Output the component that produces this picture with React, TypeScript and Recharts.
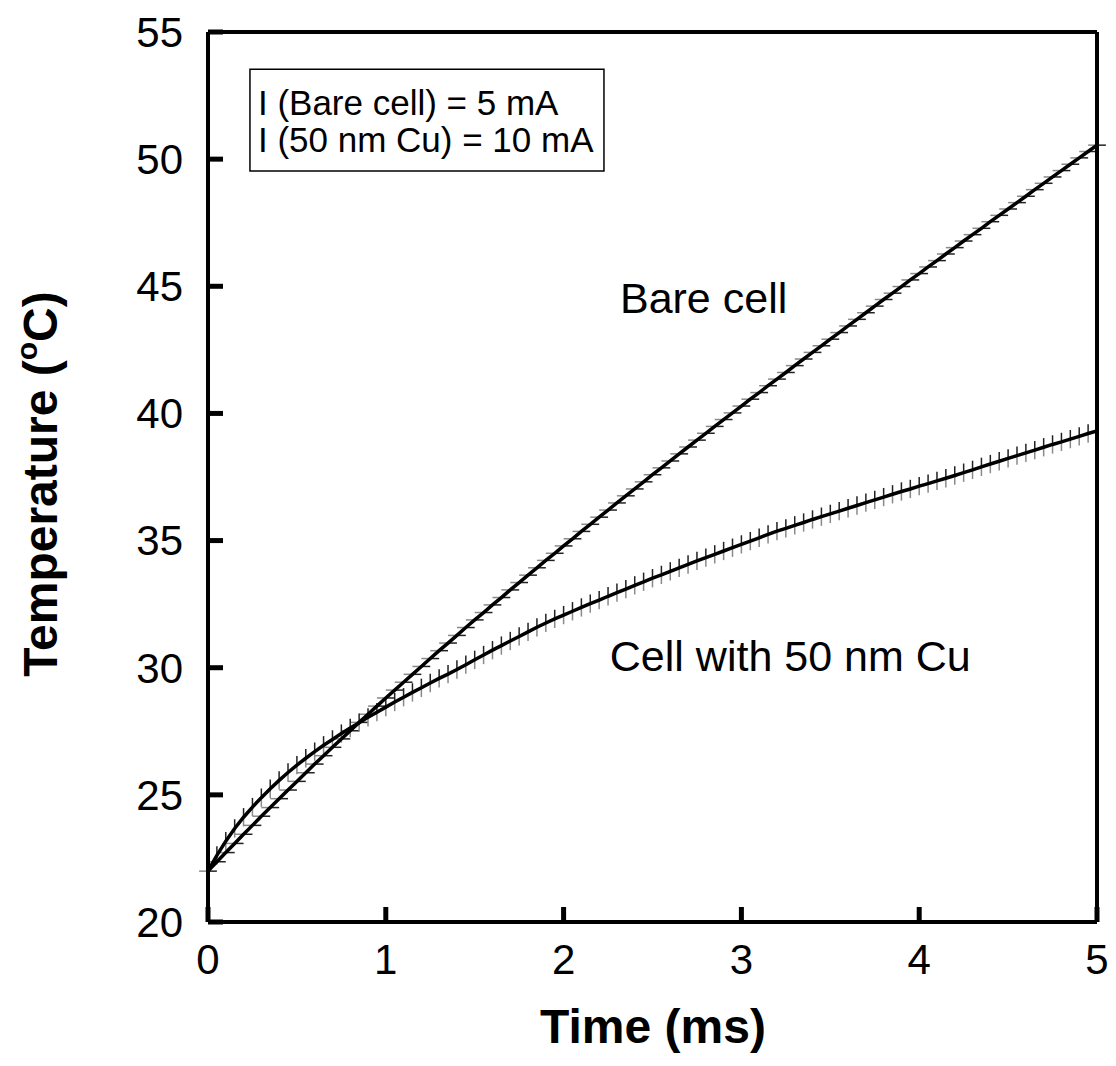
import React from 'react';
import { ComposedChart, Scatter, XAxis, YAxis, ErrorBar, ReferenceArea, ReferenceDot } from 'recharts';

const TIME = [
  0, 0.05, 0.1, 0.15, 0.2, 0.25, 0.3, 0.35, 0.4, 0.45, 0.5, 0.55, 0.6, 0.65, 0.7, 0.75, 0.8, 0.85, 0.9, 0.95,
  1, 1.05, 1.1, 1.15, 1.2, 1.25, 1.3, 1.35, 1.4, 1.45, 1.5, 1.55, 1.6, 1.65, 1.7, 1.75, 1.8, 1.85, 1.9, 1.95,
  2, 2.05, 2.1, 2.15, 2.2, 2.25, 2.3, 2.35, 2.4, 2.45, 2.5, 2.55, 2.6, 2.65, 2.7, 2.75, 2.8, 2.85, 2.9, 2.95,
  3, 3.05, 3.1, 3.15, 3.2, 3.25, 3.3, 3.35, 3.4, 3.45, 3.5, 3.55, 3.6, 3.65, 3.7, 3.75, 3.8, 3.85, 3.9, 3.95,
  4, 4.05, 4.1, 4.15, 4.2, 4.25, 4.3, 4.35, 4.4, 4.45, 4.5, 4.55, 4.6, 4.65, 4.7, 4.75, 4.8, 4.85, 4.9, 4.95, 5,
];

const BARE_CELL = [
  22.0, 22.37, 22.73, 23.09, 23.45, 23.8, 24.16, 24.5, 24.85, 25.19, 25.53, 25.87, 26.21, 26.54, 26.87, 27.2, 27.52, 27.85, 28.17, 28.49,
  28.81, 29.12, 29.43, 29.74, 30.05, 30.36, 30.67, 30.97, 31.27, 31.58, 31.88, 32.17, 32.47, 32.76, 33.06, 33.35, 33.64, 33.93, 34.22, 34.5,
  34.79, 35.07, 35.36, 35.64, 35.92, 36.2, 36.48, 36.76, 37.03, 37.31, 37.59, 37.86, 38.13, 38.41, 38.68, 38.95, 39.22, 39.49, 39.76, 40.02,
  40.29, 40.56, 40.82, 41.09, 41.35, 41.61, 41.88, 42.14, 42.4, 42.66, 42.92, 43.18, 43.44, 43.7, 43.96, 44.22, 44.48, 44.73, 44.99, 45.25,
  45.5, 45.76, 46.01, 46.27, 46.52, 46.78, 47.03, 47.28, 47.54, 47.79, 48.04, 48.29, 48.54, 48.8, 49.05, 49.3, 49.55, 49.8, 50.05, 50.3, 50.55,
];

const CU_CELL = [
  22.0, 22.62, 23.18, 23.68, 24.12, 24.52, 24.89, 25.24, 25.57, 25.88, 26.17, 26.44, 26.7, 26.95, 27.18, 27.41, 27.63, 27.84, 28.05, 28.25,
  28.45, 28.65, 28.84, 29.03, 29.21, 29.4, 29.58, 29.75, 29.93, 30.12, 30.31, 30.5, 30.69, 30.87, 31.05, 31.23, 31.41, 31.59, 31.76, 31.92,
  32.07, 32.22, 32.37, 32.52, 32.66, 32.81, 32.95, 33.09, 33.24, 33.38, 33.52, 33.65, 33.79, 33.93, 34.06, 34.2, 34.33, 34.46, 34.59, 34.72,
  34.85, 34.98, 35.11, 35.24, 35.37, 35.48, 35.6, 35.71, 35.83, 35.94, 36.05, 36.16, 36.27, 36.38, 36.49, 36.6, 36.71, 36.82, 36.93, 37.03,
  37.14, 37.24, 37.35, 37.45, 37.56, 37.67, 37.78, 37.9, 38.01, 38.12, 38.23, 38.34, 38.45, 38.56, 38.67, 38.78, 38.88, 38.99, 39.1, 39.21, 39.31,
];

const BARE_TIME_ERR = 0.05; // ms, horizontal error
const CU_TEMP_ERR = 0.36; // °C, vertical error

const X_TICKS = [0, 1, 2, 3, 4, 5];
const Y_TICKS = [20, 25, 30, 35, 40, 45, 50, 55];

const LEGEND_LINES = ['I (Bare cell) = 5 mA', 'I (50 nm Cu) = 10 mA'];
const BARE_LABEL = 'Bare cell';
const CU_LABEL = 'Cell with 50 nm Cu';

const bareRows = TIME.map((t, i) => ({
  t,
  T: BARE_CELL[i],
  errLow: [BARE_TIME_ERR, 0],
  errHigh: [0, BARE_TIME_ERR],
}));
const cuRows = TIME.map((t, i) => ({
  t,
  T: CU_CELL[i],
  errLow: [CU_TEMP_ERR, 0],
  errHigh: [0, CU_TEMP_ERR],
}));

const FONT = "Arial, 'Liberation Sans', Helvetica, sans-serif";

const NoShape = () => <g />;

const YTitle = () => (
  <text
    x={49}
    y={476}
    transform="rotate(-90 49 476)"
    textAnchor="middle"
    fontFamily={FONT}
    fontWeight="bold"
    fontSize={48}
    fill="#000"
  >
    Temperature (
    <tspan fontSize={30} dy={-20}>o</tspan>
    <tspan dy={20}>C)</tspan>
  </text>
);

const XTitle = () => (
  <text x={645} y={1035} textAnchor="middle" fontFamily={FONT} fontWeight="bold" fontSize={48} fill="#000">
    Time (ms)
  </text>
);

const LegendContent = (props: any) => {
  const vb = props.viewBox || {};
  return (
    <g>
      <text x={vb.x + 8} y={vb.y + 46} fontFamily={FONT} fontSize={35} fill="#000">{LEGEND_LINES[0]}</text>
      <text x={vb.x + 8} y={vb.y + 83} fontFamily={FONT} fontSize={35} fill="#000">{LEGEND_LINES[1]}</text>
    </g>
  );
};

const makeTextLabel = (txt: string) => (props: any) => {
  const vb = props.viewBox || {};
  return (
    <text x={vb.x} y={vb.y} fontFamily={FONT} fontSize={43} fill="#000" textAnchor="start">
      {txt}
    </text>
  );
};

export default function App() {
  return (
    <div style={{ width: 1100, height: 1050, background: '#fff' }}>
      <ComposedChart width={1100} height={1050} margin={{ top: 23, right: 10, bottom: 36, left: 0 }}>
        <XAxis
          xAxisId={0}
          type="number"
          dataKey="t"
          domain={[0, 5]}
          ticks={X_TICKS}
          allowDataOverflow
          height={100}
          axisLine={{ stroke: '#000', strokeWidth: 4 }}
          tickLine={{ stroke: '#000', strokeWidth: 5 }}
          tickSize={-15}
          tickMargin={37}
          tick={{ fontSize: 42, fill: '#000', fontFamily: FONT }}
          label={<XTitle />}
        />
        <XAxis
          xAxisId="top"
          orientation="top"
          type="number"
          domain={[0, 5]}
          ticks={X_TICKS}
          allowDataOverflow
          height={1}
          axisLine={{ stroke: '#000', strokeWidth: 4 }}
          tickLine={{ stroke: '#000', strokeWidth: 5 }}
          tickSize={-15}
          tick={false}
        />
        <YAxis
          yAxisId={0}
          type="number"
          domain={[20, 55]}
          ticks={Y_TICKS}
          allowDataOverflow
          width={200}
          axisLine={{ stroke: '#000', strokeWidth: 4 }}
          tickLine={{ stroke: '#000', strokeWidth: 5 }}
          tickSize={-15}
          tickMargin={40}
          tick={{ fontSize: 42, fill: '#000', fontFamily: FONT }}
          label={<YTitle />}
        />
        <YAxis
          yAxisId="right"
          orientation="right"
          type="number"
          domain={[20, 55]}
          ticks={Y_TICKS}
          allowDataOverflow
          width={1}
          axisLine={{ stroke: '#000', strokeWidth: 4 }}
          tickLine={{ stroke: '#000', strokeWidth: 5 }}
          tickSize={-15}
          tick={false}
        />
        <ReferenceArea
          x1={0.236}
          x2={2.227}
          y1={49.53}
          y2={53.54}
          fill="#fff"
          fillOpacity={1}
          stroke="#000"
          strokeWidth={1.5}
          label={<LegendContent />}
        />
        <ReferenceDot x={2.317} y={43.95} r={0} fill="none" stroke="none" label={makeTextLabel(BARE_LABEL)} />
        <ReferenceDot x={2.26} y={29.87} r={0} fill="none" stroke="none" label={makeTextLabel(CU_LABEL)} />
        <Scatter
          name="Bare cell"
          data={bareRows}
          dataKey="T"
          line={{ stroke: '#000', strokeWidth: 3.5 }}
          shape={NoShape}
          isAnimationActive={false}
        >
          <ErrorBar dataKey="errLow" direction="x" width={0} stroke="#8a8a8a" strokeWidth={1.5} />
          <ErrorBar dataKey="errHigh" direction="x" width={0} stroke="#222" strokeWidth={1.5} />
        </Scatter>
        <Scatter
          name="Cell with 50 nm Cu"
          data={cuRows}
          dataKey="T"
          line={{ stroke: '#000', strokeWidth: 3.5 }}
          shape={NoShape}
          isAnimationActive={false}
        >
          <ErrorBar dataKey="errLow" direction="y" width={0} stroke="#8a8a8a" strokeWidth={1.5} />
          <ErrorBar dataKey="errHigh" direction="y" width={0} stroke="#222" strokeWidth={1.5} />
        </Scatter>
      </ComposedChart>
    </div>
  );
}
